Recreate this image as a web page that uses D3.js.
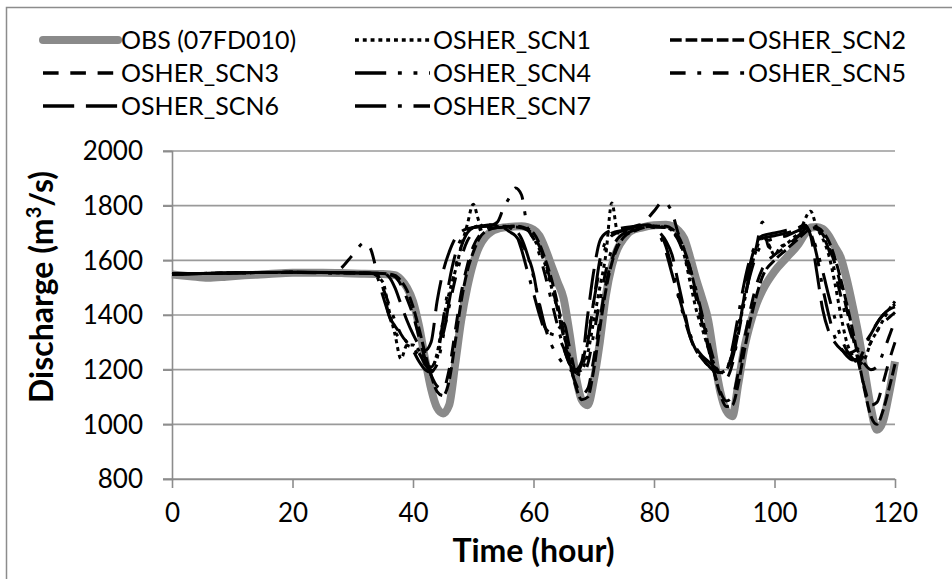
<!DOCTYPE html>
<html>
<head>
<meta charset="utf-8">
<script src="https://cdn.jsdelivr.net/npm/d3@7"></script>
<style>
    body { margin: 0; background: #fff; }
    text { font-family: Lato, "Liberation Sans", sans-serif; fill: #000; }
</style>
</head>
<body>
<div id="chart"></div>
<script>
/** Donnees : [heure, debit m3/s] */
var obs = [[0,1548],[3,1542],[6,1536],[9,1540],[12,1545],[16,1550],[20,1555],[25,1555],[30,1552],[35,1550],[37,1546],[38,1530],[39,1500],[40,1450],[41,1360],[42,1240],[43,1130],[44,1060],[45,1040],[46,1070],[47,1220],[48,1380],[49,1500],[50,1590],[51,1650],[52,1685],[53,1705],[55,1720],[58,1725],[60,1712],[61,1690],[62,1640],[63,1580],[64,1520],[65,1460],[66,1330],[67,1180],[68,1090],[69,1070],[70,1160],[71,1300],[72,1470],[73,1580],[74,1645],[75,1680],[76,1705],[78,1720],[80,1728],[82,1730],[83,1725],[84,1710],[85,1680],[86,1610],[87,1530],[88,1460],[89,1380],[90,1240],[91,1120],[92,1050],[93,1030],[94,1150],[95,1280],[96,1370],[97,1440],[98,1490],[100,1560],[102,1610],[104,1660],[105,1695],[106,1720],[107,1722],[108,1715],[109,1690],[110,1650],[111,1610],[112,1530],[113,1430],[114,1320],[115,1190],[116,1060],[117,980],[118,1010],[119,1110],[120,1230]];

var scn1 = [[0,1550],[20,1556],[33,1552],[35,1520],[36,1420],[37,1330],[38,1240],[39,1290],[40,1290],[41,1270],[42,1230],[43,1200],[44,1260],[45,1380],[46,1480],[47,1560],[48,1650],[49,1730],[50,1805],[51,1740],[52,1720],[54,1725],[57,1725],[59,1710],[60,1680],[61,1640],[62,1580],[63,1500],[64,1420],[65,1330],[66,1250],[67,1190],[68,1200],[69,1260],[70,1380],[71,1500],[72,1620],[73,1810],[74,1700],[75,1700],[77,1715],[80,1725],[82,1720],[84,1680],[85,1620],[86,1520],[87,1420],[88,1350],[89,1280],[90,1220],[91,1190],[92,1200],[93,1260],[94,1350],[95,1450],[96,1560],[97,1640],[98,1690],[99,1660],[100,1620],[101,1650],[102,1660],[103,1680],[104,1700],[106,1780],[107,1720],[108,1680],[109,1620],[110,1520],[111,1400],[112,1300],[113,1250],[114,1220],[115,1240],[116,1300],[117,1340],[118,1380],[119,1420],[120,1450]];

var scn2 = [[0,1550],[20,1556],[35,1552],[37,1545],[38,1525],[39,1490],[40,1430],[41,1350],[42,1260],[43,1180],[44,1120],[45,1105],[46,1160],[47,1300],[48,1450],[49,1560],[50,1630],[51,1680],[52,1705],[54,1720],[57,1725],[59,1715],[60,1700],[61,1660],[62,1600],[63,1530],[64,1440],[65,1340],[66,1230],[67,1140],[68,1090],[69,1100],[70,1200],[71,1350],[72,1490],[73,1590],[74,1650],[75,1685],[77,1710],[80,1725],[82,1725],[83,1715],[84,1690],[85,1640],[86,1570],[87,1480],[88,1390],[89,1290],[90,1190],[91,1110],[92,1065],[93,1070],[94,1150],[95,1270],[96,1380],[97,1470],[98,1540],[100,1600],[102,1640],[104,1680],[106,1715],[107,1720],[108,1705],[109,1670],[110,1610],[111,1530],[112,1440],[113,1340],[114,1230],[115,1120],[116,1030],[117,1000],[118,1050],[119,1130],[120,1220]];

var scn3 = [[0,1550],[20,1556],[35,1552],[37,1540],[38,1510],[39,1460],[40,1400],[41,1320],[42,1240],[43,1180],[44,1140],[45,1130],[46,1200],[47,1340],[48,1480],[49,1580],[50,1650],[51,1690],[52,1710],[54,1720],[57,1722],[59,1712],[60,1690],[61,1650],[62,1590],[63,1510],[64,1420],[65,1320],[66,1220],[67,1150],[68,1110],[69,1130],[70,1240],[71,1380],[72,1510],[73,1600],[74,1660],[75,1690],[77,1712],[80,1722],[82,1720],[83,1705],[84,1675],[85,1620],[86,1550],[87,1460],[88,1370],[89,1280],[90,1190],[91,1120],[92,1085],[93,1100],[94,1190],[95,1310],[96,1420],[97,1510],[98,1570],[100,1620],[102,1650],[104,1690],[106,1720],[107,1715],[108,1695],[109,1650],[110,1590],[111,1510],[112,1420],[113,1320],[114,1220],[115,1130],[116,1070],[117,1080],[118,1150],[119,1230],[120,1300]];

var scn4 = [[0,1550],[20,1556],[33,1552],[34,1540],[35,1470],[36,1400],[37,1340],[38,1310],[39,1290],[40,1280],[41,1260],[42,1220],[43,1195],[44,1220],[45,1320],[46,1450],[47,1570],[48,1650],[49,1700],[50,1720],[52,1730],[55,1725],[57,1710],[58,1680],[59,1620],[60,1540],[61,1440],[62,1350],[63,1290],[64,1250],[65,1220],[66,1200],[67,1190],[68,1220],[69,1320],[70,1450],[71,1570],[72,1650],[73,1690],[75,1710],[78,1725],[80,1720],[81,1690],[82,1630],[83,1550],[84,1470],[85,1390],[86,1320],[87,1270],[88,1240],[89,1215],[90,1195],[91,1190],[92,1200],[93,1260],[94,1360],[95,1460],[96,1550],[97,1620],[98,1660],[100,1680],[102,1690],[104,1710],[105,1720],[106,1700],[107,1640],[108,1560],[109,1470],[110,1390],[111,1320],[112,1270],[113,1240],[114,1230],[115,1260],[116,1300],[117,1340],[118,1370],[119,1390],[120,1410]];

var scn5 = [[0,1550],[20,1556],[27,1553],[28,1570],[30,1620],[32,1665],[33,1640],[34,1560],[35,1500],[36,1440],[37,1380],[38,1330],[39,1300],[40,1280],[41,1250],[42,1220],[43,1210],[44,1250],[45,1330],[46,1430],[47,1530],[48,1610],[49,1670],[50,1700],[52,1720],[54,1740],[55,1790],[56,1830],[57,1865],[58,1840],[59,1720],[60,1680],[61,1620],[62,1540],[63,1450],[64,1360],[65,1280],[66,1220],[67,1190],[68,1180],[69,1220],[70,1330],[71,1450],[72,1560],[73,1640],[74,1680],[76,1710],[78,1730],[80,1780],[81.5,1815],[83,1775],[84,1700],[85,1640],[86,1570],[87,1490],[88,1400],[89,1310],[90,1230],[91,1180],[92,1170],[93,1220],[94,1330],[95,1450],[96,1560],[97,1650],[98,1740],[99,1650],[100,1640],[102,1660],[104,1690],[106,1730],[107,1720],[108,1690],[109,1640],[110,1560],[111,1470],[112,1380],[113,1310],[114,1260],[115,1220],[116,1200],[117,1210],[118,1260],[119,1320],[120,1380]];

var scn6 = [[0,1550],[20,1556],[35,1552],[36,1540],[37,1500],[38,1440],[39,1380],[40,1330],[41,1290],[42,1270],[43,1300],[44,1450],[45,1560],[46,1630],[47,1680],[48,1705],[50,1720],[53,1725],[55,1720],[56,1705],[57,1690],[58,1660],[59,1620],[60,1550],[61,1430],[62,1350],[63,1335],[64,1345],[65,1370],[66,1280],[67,1200],[68,1230],[69,1400],[70,1560],[71,1670],[72,1700],[74,1715],[77,1725],[79,1730],[80,1720],[81,1700],[82,1670],[83,1620],[84,1520],[85,1420],[86,1320],[87,1270],[88,1240],[89,1215],[90,1195],[91,1190],[92,1188],[93,1240],[94,1340],[95,1470],[96,1590],[97,1660],[98,1690],[100,1700],[102,1710],[104,1720],[105,1730],[106,1690],[107,1560],[108,1420],[109,1340],[110,1300],[111,1275],[112,1260],[113,1265],[114,1280],[115,1300],[116,1330],[117,1370],[118,1400],[119,1420],[120,1440]];

var scn7 = [[0,1550],[20,1556],[33,1553],[34,1545],[35,1500],[36,1400],[37,1360],[38,1330],[39,1300],[40,1270],[41,1230],[42,1200],[43,1190],[44,1240],[45,1380],[46,1520],[47,1620],[48,1680],[49,1710],[51,1725],[54,1730],[56,1720],[57,1700],[58,1640],[59,1560],[60,1480],[61,1400],[62,1340],[63,1330],[64,1320],[65,1280],[66,1220],[67,1200],[68,1210],[69,1300],[70,1450],[71,1600],[72,1670],[73,1700],[75,1710],[78,1730],[80,1725],[81,1700],[82,1650],[83,1570],[84,1480],[85,1400],[86,1330],[87,1280],[88,1250],[89,1230],[90,1210],[91,1195],[92,1200],[93,1280],[94,1400],[95,1520],[96,1610],[97,1660],[98,1680],[100,1690],[102,1700],[104,1715],[105,1725],[106,1700],[107,1620],[108,1500],[109,1400],[110,1320],[111,1280],[112,1250],[113,1235],[114,1240],[115,1280],[116,1330],[117,1370],[118,1400],[119,1420],[120,1430]];

var seriesNames = ["OBS (07FD010)", "OSHER_SCN1", "OSHER_SCN2", "OSHER_SCN3", "OSHER_SCN4", "OSHER_SCN5", "OSHER_SCN6", "OSHER_SCN7"];
var seriesData = [obs, scn1, scn2, scn3, scn4, scn5, scn6, scn7];
var xTicks = [0, 20, 40, 60, 80, 100, 120];
var yTicks = [800, 1000, 1200, 1400, 1600, 1800, 2000];

// styles de traits (type Excel : rond, tiret systeme, tiret, tiret long-point-point, tiret-point, tiret long, tiret long-point)
var dashes = [null, "3.9,3.9", "11.7,3.9", "15.6,11.7", "31.2,11.7,3.9,11.7,3.9,11.7", "15.6,11.7,3.9,11.7", "31.2,11.7", "31.2,11.7,3.9,11.7"];

/** Initialisation du SVG */
var width = 952,
    height = 579;

var svg = d3
    .select("#chart")
    .append("svg")
    .attr("width", width)
    .attr("height", height);

// cadre du graphique
svg.append("rect")
    .attr("x", 6.5)
    .attr("y", 7.5)
    .attr("width", 960)
    .attr("height", 600)
    .attr("fill", "none")
    .attr("stroke", "#8c8c8c")
    .attr("stroke-width", 1.5);

var x = d3.scaleLinear().domain([0, 120]).range([172, 895]);
var y = d3.scaleLinear().domain([800, 2000]).range([479, 151]);

// grille horizontale
svg.append("g")
    .selectAll("line")
    .data(yTicks)
    .enter()
    .append("line")
    .attr("x1", x(0) - 9)
    .attr("x2", x(120))
    .attr("y1", function (d) { return y(d); })
    .attr("y2", function (d) { return y(d); })
    .attr("stroke", "#9a9a9a")
    .attr("stroke-width", 1.6);

// axe Y
var yAxis = svg.append("g")
    .attr("transform", "translate(" + x(0) + ",0)")
    .call(d3.axisLeft(y).tickValues(yTicks).tickSize(9).tickPadding(20).tickFormat(d3.format("d")));

// axe X
var xAxis = svg.append("g")
    .attr("transform", "translate(0," + y(800) + ")")
    .call(d3.axisBottom(x).tickValues(xTicks).tickSize(9).tickPadding(16).tickSizeOuter(0));

[xAxis, yAxis].forEach(function (a) {
    a.select(".domain").attr("stroke", "#8c8c8c").attr("stroke-width", 1.6);
    a.selectAll(".tick line").attr("stroke", "#8c8c8c").attr("stroke-width", 1.6);
    a.selectAll("text")
        .style("font-family", "Lato, 'Liberation Sans', sans-serif")
        .style("font-size", "26px")
        .attr("fill", "#000");
});
yAxis.selectAll("text").attr("dy", "0.34em");
xAxis.selectAll("text").attr("dy", "0.71em");

// titres des axes
svg.append("text")
    .attr("x", x(60))
    .attr("y", 562)
    .attr("text-anchor", "middle")
    .style("font-size", "32px")
    .style("font-weight", "bold")
    .text("Time (hour)");

var yTitle = svg.append("text")
    .attr("transform", "translate(53,287) rotate(-90)")
    .attr("text-anchor", "middle")
    .style("font-size", "32px")
    .style("font-weight", "bold");
yTitle.append("tspan").text("Discharge (m");
yTitle.append("tspan").attr("dy", -12).style("font-size", "20px").text("3");
yTitle.append("tspan").attr("dy", 12).text("/s)");

/** Courbes */
var line = d3.line()
    .x(function (d) { return x(d[0]); })
    .y(function (d) { return y(d[1]); })
    .curve(d3.curveMonotoneX);

svg.append("g")
    .selectAll("path")
    .data(seriesData)
    .enter()
    .append("path")
    .attr("d", line)
    .attr("fill", "none")
    .attr("stroke", function (d, i) { return i === 0 ? "#8a8a8a" : "#000"; })
    .attr("stroke-width", function (d, i) { return i === 0 ? 8 : 3; })
    .attr("stroke-dasharray", function (d, i) { return dashes[i]; })
    .attr("stroke-linejoin", "round");

/** Legende sur 3 colonnes */
var legX = [43, 355, 670];
var legY = [40, 73, 106];

var legend = svg.append("g")
    .selectAll("g")
    .data(seriesNames)
    .enter()
    .append("g")
    .attr("transform", function (d, i) {
        return "translate(" + legX[i % 3] + "," + legY[Math.floor(i / 3)] + ")";
    });

legend.append("line")
    .attr("x1", 0)
    .attr("x2", 75)
    .attr("y1", 0)
    .attr("y2", 0)
    .attr("stroke", function (d, i) { return i === 0 ? "#8a8a8a" : "#000"; })
    .attr("stroke-width", function (d, i) { return i === 0 ? 8 : 3.6; })
    .attr("stroke-linecap", function (d, i) { return i === 0 ? "round" : "butt"; })
    .attr("stroke-dasharray", function (d, i) { return dashes[i]; });

legend.append("text")
    .attr("x", 78)
    .attr("y", 9)
    .style("font-size", "25px")
    .text(function (d) { return d; });
</script>
</body>
</html>
